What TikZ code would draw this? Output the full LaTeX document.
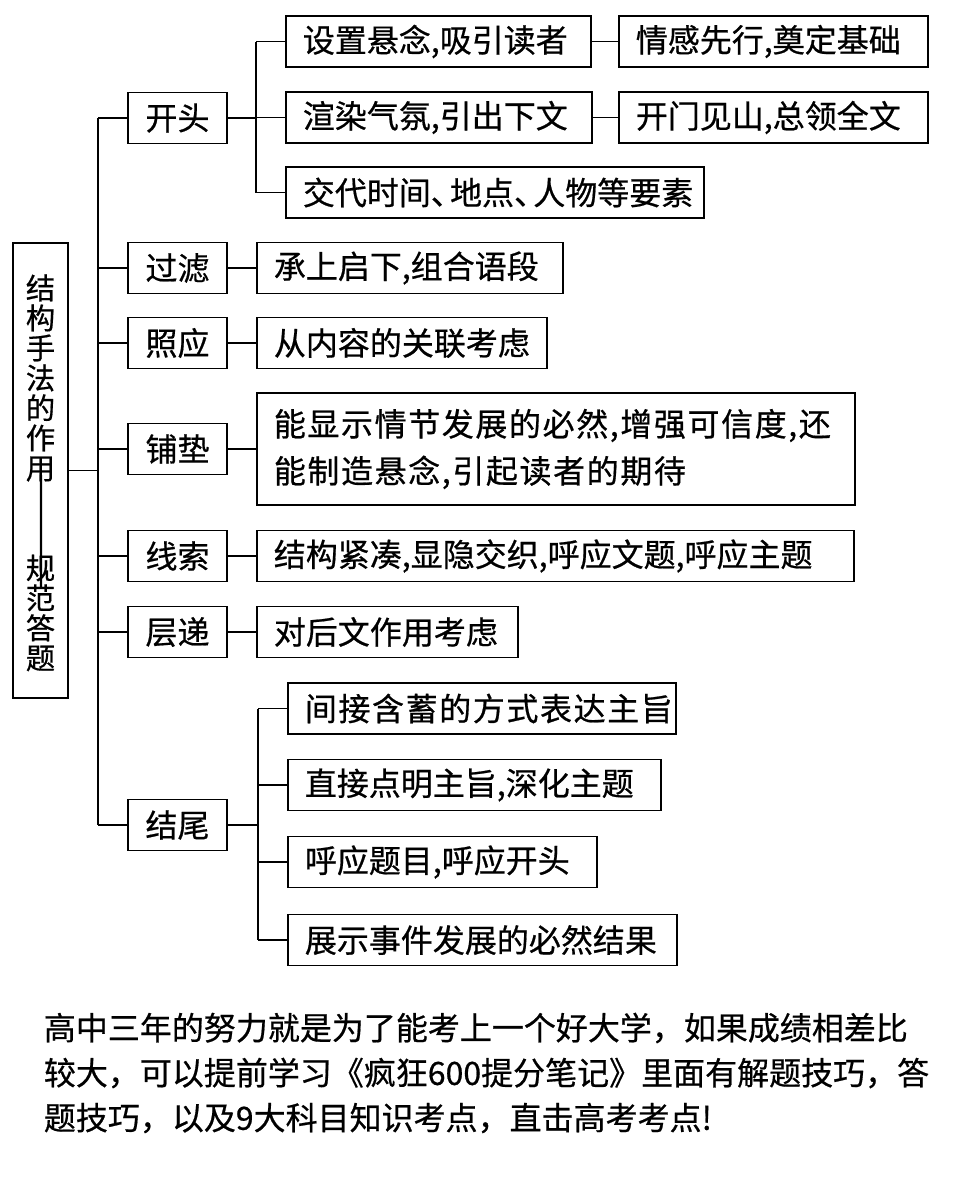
\documentclass[tikz,border=0pt]{standalone}
\usepackage{fontspec}
\newfontfamily\cjk{Noto Sans CJK SC}[FakeBold=0.6]
\usepackage{tikz}

\begin{document}
\begin{tikzpicture}[x = 0.75pt, y = -0.75pt, line width = 1.3pt,
    head/.style = {draw, minimum width = 74.25pt, minimum height = 38.25pt, inner sep = 0pt, font = \cjk\fontsize{24}{28}\selectfont},
    leaf/.style = {draw, anchor = west, text width = #1, align = left, inner xsep = 12.75pt, inner ysep = 0pt, minimum height = 38.25pt, font = \cjk\fontsize{24}{28}\selectfont},
    wide/.style = {font = \cjk\fontsize{24}{35.25}\selectfont\addfontfeature{LetterSpace=5}},
    note/.style = {anchor = west, inner sep = 0pt, font = \cjk\fontsize{24}{28}\selectfont}]
  \path[use as bounding box, fill = white] (0,0) rectangle (959,1185);

  % left column
  \node[draw, minimum width = 41.25pt, minimum height = 341.25pt, inner sep = 0pt] (root) at (40.5,470.5) {};
  \node[inner sep = 0pt, align = center, font = \cjk\fontsize{22}{22.5}\selectfont] (rootup) at (40.5,378) {结\\构\\手\\法\\的\\作\\用};
  \node[inner sep = 0pt, rotate = -90, font = \cjk\fontsize{24}{28}\selectfont] (rootdash) at (37,531) {\scalebox{2.2}[1]{——}};
  \node[inner sep = 0pt, align = center, font = \cjk\fontsize{22}{22.5}\selectfont] (rootdown) at (40.5,613) {规\\范\\答\\题};

  \coordinate (trunk) at (98,0);
  \coordinate (kbus) at (256,0);
  \coordinate (jbus) at (258,0);

  % second column
  \node[head] (kaitou) at (177.5,118) {开头};
  \node[head] (guolv) at (177.5,268) {过滤};
  \node[head] (zhaoying) at (177.5,343) {照应};
  \node[head] (pudian) at (177.5,449) {铺垫};
  \node[head] (xiansuo) at (177.5,556) {线索};
  \node[head] (cengdi) at (177.5,632) {层递};
  \node[head] (jiewei) at (177.5,825) {结尾};

  % leaves
  \node[leaf = 203.25pt] (kai-1) at (285,41.5) {设置悬念,吸引读者};
  \node[leaf = 204pt] (kai-2) at (285,117.5) {渲染气氛,引出下文};
  \node[leaf = 288pt] (kai-3) at (285,192.5) {交代时间、\kern-0.4em 地点、\kern-0.4em 人物等要素};
  \node[leaf = 206.25pt] (kai-1r) at (618,41.5) {情感先行,奠定基础};
  \node[leaf = 206.25pt] (kai-2r) at (618,117.5) {开门见山,总领全文};
  \node[leaf = 204pt] (guolv-1) at (256,268) {承上启下,组合语段};
  \node[leaf = 192pt] (zhaoying-1) at (256,343) {从内容的关联考虑};
  \node[leaf = 423pt, minimum height = 84pt, wide] (pudian-1) at (256,449) {能显示情节发展的必然,增强可信度,还\\能制造悬念,引起读者的期待};
  \node[leaf = 422.25pt] (xiansuo-1) at (256,556) {结构紧凑,显隐交织,呼应文题,呼应主题};
  \node[leaf = 170.25pt] (cengdi-1) at (256,632) {对后文作用考虑};
  \node[leaf = 265.5pt, wide] (jie-1) at (287,708.5) {间接含蓄的方式表达主旨};
  \node[leaf = 254.25pt] (jie-2) at (287,785) {直接点明主旨,深化主题};
  \node[leaf = 206.25pt] (jie-3) at (287,862) {呼应题目,呼应开头};
  \node[leaf = 266.25pt] (jie-4) at (287,940) {展示事件发展的必然结果};

  \path (root.east) edge (root.east -| trunk)
        (kaitou.west -| trunk) edge (jiewei.west -| trunk)
        (kaitou.west -| trunk) edge (kaitou.west)
        (guolv.west -| trunk) edge (guolv.west)
        (zhaoying.west -| trunk) edge (zhaoying.west)
        (pudian.west -| trunk) edge (pudian.west)
        (xiansuo.west -| trunk) edge (xiansuo.west)
        (cengdi.west -| trunk) edge (cengdi.west)
        (jiewei.west -| trunk) edge (jiewei.west);
  \path (kaitou.east) edge (kaitou.east -| kbus)
        (kai-1.west -| kbus) edge (kai-3.west -| kbus)
        (kai-1.west -| kbus) edge (kai-1.west)
        (kai-2.west -| kbus) edge (kai-2.west)
        (kai-3.west -| kbus) edge (kai-3.west)
        (kai-1.east) edge (kai-1r.west)
        (kai-2.east) edge (kai-2r.west)
        (guolv.east) edge (guolv-1.west)
        (zhaoying.east) edge (zhaoying-1.west)
        (pudian.east) edge (pudian-1.west)
        (xiansuo.east) edge (xiansuo-1.west)
        (cengdi.east) edge (cengdi-1.west);
  \path (jiewei.east) edge (jiewei.east -| jbus)
        (jie-1.west -| jbus) edge (jie-4.west -| jbus)
        (jie-1.west -| jbus) edge (jie-1.west)
        (jie-2.west -| jbus) edge (jie-2.west)
        (jie-3.west -| jbus) edge (jie-3.west)
        (jie-4.west -| jbus) edge (jie-4.west);

  % note below
  \node[note] (note-1) at (43,1028) {高中三年的努力就是为了能考上一个好大学，如果成绩相差比};
  \node[note] (note-2) at (43,1073) {较大，可以提前学习《疯狂600提分笔记》里面有解题技巧，答};
  \node[note] (note-3) at (43,1118) {题技巧，以及9大科目知识考点，直击高考考点!};
\end{tikzpicture}
\end{document}
